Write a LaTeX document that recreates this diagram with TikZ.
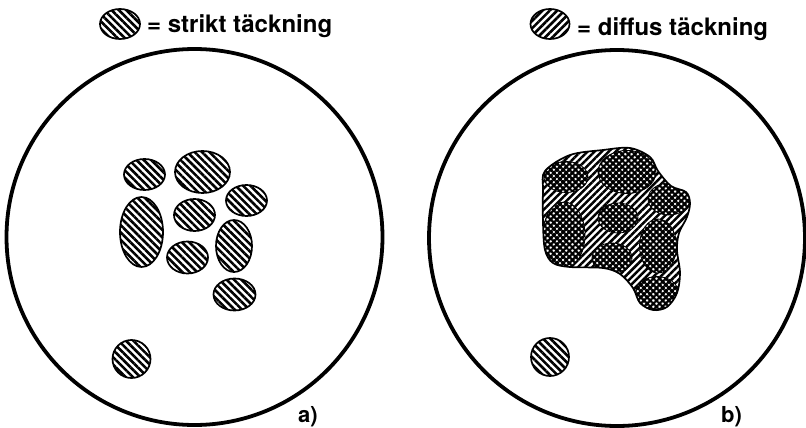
\documentclass[tikz,border=0pt]{standalone}
\usepackage{fontspec}
\setmainfont{TeX Gyre Heros}
\usetikzlibrary{shapes.geometric,patterns.meta}
\tikzset{
  strict/.style={ellipse, draw, line width=1.7pt, inner sep=0pt,
    pattern={Lines[angle=-45,distance=5.2pt,line width=2.6pt]}},
  diffus/.style={ellipse, draw, line width=1.7pt, inner sep=0pt,
    pattern={Lines[angle=45,distance=5.2pt,line width=2.6pt]}},
  cross/.style={ellipse, draw, line width=0.8pt, inner sep=0pt,
    preaction={fill=white},
    preaction={pattern={Lines[angle=45,distance=4.4pt,line width=2.3pt]}},
    pattern={Lines[angle=-45,distance=4.4pt,line width=2.3pt]}},
  panel/.style={circle, draw, line width=3.8pt, minimum size=376pt, inner sep=0pt},
  legendtext/.style={font=\bfseries\fontsize{24}{28}\selectfont, anchor=base west, inner sep=0pt},
  paneltag/.style={font=\bfseries\fontsize{22}{26}\selectfont, anchor=base west, inner sep=0pt},
  es/.style n args={2}{minimum width=#1pt, minimum height=#2pt}
}
\begin{document}
\begin{tikzpicture}[x=1pt,y=-1pt]
\useasboundingbox (0,0) rectangle (806,428);

% ---------- panel a ----------
\node[strict, es={40}{30}] (La) at (120,24) {};
\node[legendtext] (Ta) at (147,33) {= strikt täckning};
\node[panel] (Ca) at (194.5,237) {};
\node[strict, es={41}{31}] (a1) at (144.5,174.5) {};
\node[strict, es={55}{42}] (a2) at (202.5,172) {};
\node[strict, es={41}{31}] (a3) at (246.5,200.5) {};
\node[strict, es={41}{32}] (a5) at (194.5,215) {};
\node[strict, es={43}{70}] (a4) at (141.5,232) {};
\node[strict, es={41}{32}] (a6) at (187.5,257.5) {};
\node[strict, es={36}{52}] (a7) at (234,246) {};
\node[strict, es={42}{32}] (a8) at (234.5,294.5) {};
\node[strict, es={38}{38}] (a9) at (131.5,359) {};
\node[paneltag] (tagA) at (298,422) {a)};

% ---------- panel b ----------
\node[diffus, es={39}{30}] (Lb) at (550,24) {};
\node[legendtext] (Tb) at (577,36) {= diffus täckning};
\node[panel] (Cb) at (617,238) {};
\path[save path=\regionpath] plot[smooth cycle, tension=0.55] coordinates {
  (545,171) (570,155) (603,150) (630,148) (650,157) (658,171) (671,186)
  (686,192) (690,203) (687,217) (679,233) (677,250) (680,273) (677,293)
  (667,307) (653,310) (640,303) (633,288) (620,274) (603,268) (570,267)
  (553,263) (545,250) (543,223) (543,190)};
\fill[white, use path=\regionpath];
\path[pattern={Lines[angle=45,distance=5pt,line width=2.5pt]}, use path=\regionpath];
\begin{scope}
  \clip[use path=\regionpath];
  \node[cross, es={44}{31}] (b1) at (566,177) {};
  \node[cross, es={58}{43}] (b2) at (627,172) {};
  \node[cross, es={42}{32}] (b3) at (669,199) {};
  \node[cross, es={40}{30}] (b5) at (618,218) {};
  \node[cross, es={42}{66}] (b4) at (564,235) {};
  \node[cross, es={40}{30}] (b6) at (612,258) {};
  \node[cross, es={37}{54}] (b7) at (658,246) {};
  \node[cross, es={43}{33}] (b8) at (657,293) {};
\end{scope}
\draw[line width=1.7pt, use path=\regionpath];
\node[strict, es={38}{38}] (b9) at (550,357) {};
\node[paneltag] (tagB) at (721,422) {b)};
\end{tikzpicture}
\end{document}
